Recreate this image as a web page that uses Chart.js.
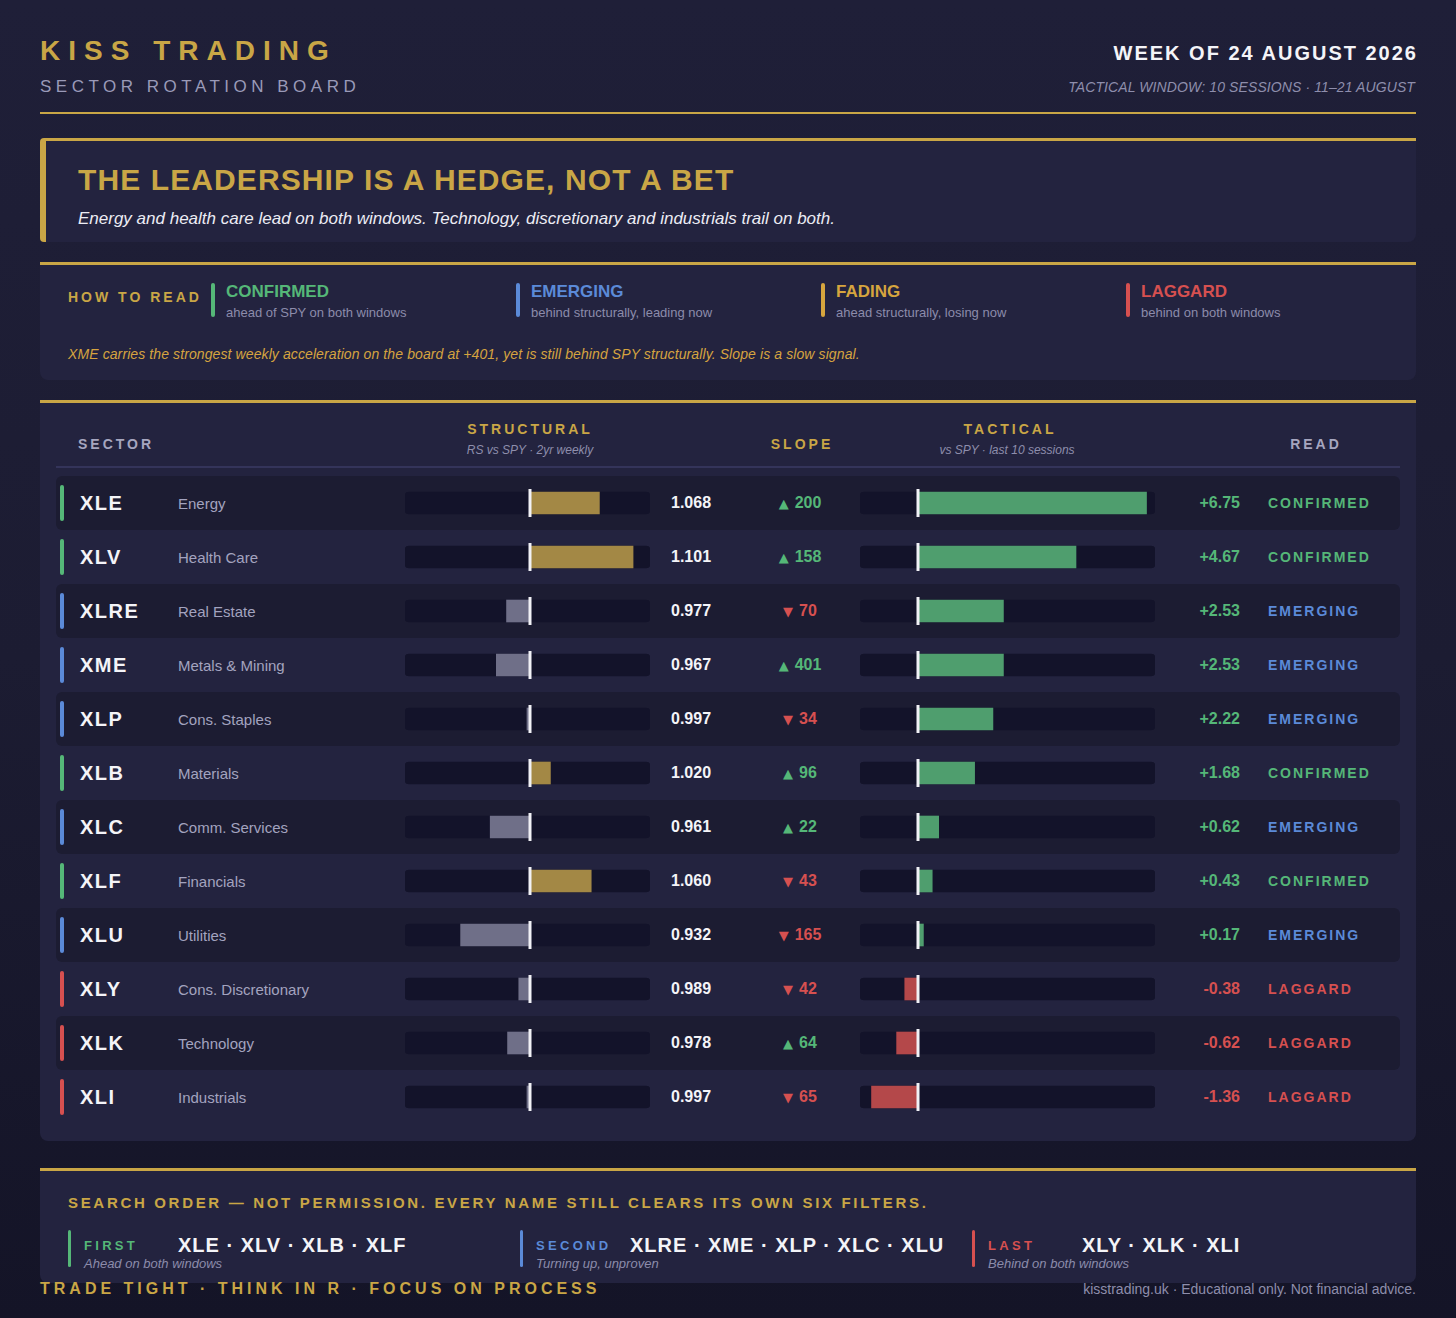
<!DOCTYPE html>
<html>
<head>
<meta charset="utf-8">
<script src="https://cdn.jsdelivr.net/npm/chart.js@4.4.1/dist/chart.umd.min.js"></script>
<style>
  * { margin: 0; padding: 0; box-sizing: border-box; }
  html, body { width: 1456px; height: 1318px; overflow: hidden; }
  body {
    position: relative;
    background: linear-gradient(180deg, #1f1f38 0%, #1c1c32 50%, #141427 100%);
    font-family: 'Liberation Sans', Arial, Helvetica, sans-serif;
    color: #f2f2f7;
  }
  .a { position: absolute; line-height: 1; white-space: nowrap; }
  .panel { position: absolute; left: 40px; width: 1376px; background: #23233f;
           border-top: 3px solid #c9a646; border-radius: 0 0 8px 8px; }
  .gold { color: #c9a646; }
  .hd { font-size: 14px; font-weight: bold; letter-spacing: 3px; }
  .row { position: absolute; left: 56px; width: 1344px; height: 54px; }
  .row.dark { background: #1c1c32; border-radius: 6px; }
  .cell { position: absolute; top: 0; height: 54px; display: flex; align-items: center; white-space: nowrap; }
  .tri { font-family: 'DejaVu Sans', sans-serif; font-size: 13px; font-weight: normal; margin-right: 6px; }
  canvas { position: absolute; }
</style>
</head>
<body>

<!-- header -->
<div class="a gold" style="left:40px;top:37px;font-size:28px;font-weight:bold;letter-spacing:8px;">KISS TRADING</div>
<div class="a" style="left:40px;top:78px;font-size:17px;letter-spacing:4.5px;color:#9a9ab8;">SECTOR ROTATION BOARD</div>
<div class="a" style="right:38px;top:43px;font-size:20px;font-weight:bold;letter-spacing:2px;color:#f4f4f8;">WEEK OF 24 AUGUST 2026</div>
<div class="a" style="right:41px;top:80px;font-size:14px;font-style:italic;letter-spacing:0.1px;color:#8e8eac;">TACTICAL WINDOW: 10 SESSIONS · 11–21 AUGUST</div>
<div class="a" style="left:40px;top:112px;width:1376px;height:2px;background:#c9a646;"></div>

<!-- headline -->
<div class="panel" style="top:138px;height:104px;border-left:6px solid #c9a646;border-radius:4px 0 8px 4px;"></div>
<div class="a gold" style="left:78px;top:165px;font-size:30px;font-weight:bold;letter-spacing:1.1px;">THE LEADERSHIP IS A HEDGE, NOT A BET</div>
<div class="a" style="left:78px;top:210px;font-size:17px;font-style:italic;color:#ececf4;">Energy and health care lead on both windows. Technology, discretionary and industrials trail on both.</div>

<!-- how to read -->
<div class="panel" style="top:262px;height:118px;"></div>
<div class="a gold hd" style="left:68px;top:290px;">HOW TO READ</div>
<div id="legend"></div>
<div class="a" style="left:68px;top:347px;font-size:14px;font-style:italic;letter-spacing:0.1px;color:#d6a33f;">XME carries the strongest weekly acceleration on the board at +401, yet is still behind SPY structurally. Slope is a slow signal.</div>

<!-- table -->
<div class="panel" style="top:400px;height:741px;"></div>
<div class="a hd" style="left:78px;top:437px;color:#a6a6bf;">SECTOR</div>
<div class="a gold hd" style="left:430px;width:200px;text-align:center;top:422px;">STRUCTURAL</div>
<div class="a" style="left:430px;width:200px;text-align:center;top:444px;font-size:12px;font-style:italic;color:#8e8eac;">RS vs SPY · 2yr weekly</div>
<div class="a gold hd" style="left:752px;width:100px;text-align:center;top:437px;">SLOPE</div>
<div class="a gold hd" style="left:910px;width:200px;text-align:center;top:422px;">TACTICAL</div>
<div class="a" style="left:907px;width:200px;text-align:center;top:444px;font-size:12px;font-style:italic;color:#8e8eac;">vs SPY · last 10 sessions</div>
<div class="a hd" style="left:1268px;width:96px;text-align:center;top:437px;color:#a6a6bf;">READ</div>
<div class="a" style="left:56px;top:466px;width:1344px;height:2px;background:#34345a;"></div>
<div id="rows"></div>
<canvas id="structChart" width="245" height="648" style="left:405px;top:476px;width:245px;height:648px;"></canvas>
<canvas id="tactChart" width="295" height="648" style="left:860px;top:476px;width:295px;height:648px;"></canvas>

<!-- search order -->
<div class="panel" style="top:1168px;height:115px;"></div>
<div class="a gold" style="left:68px;top:1195px;font-size:15px;font-weight:bold;letter-spacing:2.68px;">SEARCH ORDER — NOT PERMISSION. EVERY NAME STILL CLEARS ITS OWN SIX FILTERS.</div>
<div id="groups"></div>

<div class="a gold" style="left:40px;top:1281px;font-size:16px;font-weight:bold;letter-spacing:4px;">TRADE TIGHT · THINK IN R · FOCUS ON PROCESS</div>
<div class="a" style="right:40px;top:1282px;font-size:14px;color:#8e8eac;">kisstrading.uk · Educational only. Not financial advice.</div>

<script>
var TICKERS    = ['XLE', 'XLV', 'XLRE', 'XME', 'XLP', 'XLB', 'XLC', 'XLF', 'XLU', 'XLY', 'XLK', 'XLI'];
var SECTORS    = ['Energy', 'Health Care', 'Real Estate', 'Metals & Mining', 'Cons. Staples', 'Materials',
                  'Comm. Services', 'Financials', 'Utilities', 'Cons. Discretionary', 'Technology', 'Industrials'];
var STRUCTURAL = [1.068, 1.101, 0.977, 0.967, 0.997, 1.020, 0.961, 1.060, 0.932, 0.989, 0.978, 0.997];
var SLOPE      = [200, 158, -70, 401, -34, 96, 22, -43, -165, -42, 64, -65];
var TACTICAL   = [6.75, 4.67, 2.53, 2.53, 2.22, 1.68, 0.62, 0.43, 0.17, -0.38, -0.62, -1.36];
var READS      = ['CONFIRMED', 'CONFIRMED', 'EMERGING', 'EMERGING', 'EMERGING', 'CONFIRMED',
                  'EMERGING', 'CONFIRMED', 'EMERGING', 'LAGGARD', 'LAGGARD', 'LAGGARD'];

var LEGEND_KEYS  = ['CONFIRMED', 'EMERGING', 'FADING', 'LAGGARD'];
var LEGEND_NOTES = ['ahead of SPY on both windows', 'behind structurally, leading now',
                    'ahead structurally, losing now', 'behind on both windows'];
var GROUP_NAMES  = ['FIRST', 'SECOND', 'LAST'];
var GROUP_READS  = ['CONFIRMED', 'EMERGING', 'LAGGARD'];
var GROUP_NOTES  = ['Ahead on both windows', 'Turning up, unproven', 'Behind on both windows'];

var STRUCT_BASE = 1, STRUCT_MIN = 0.8775, STRUCT_MAX = 1.1176;
var TACT_BASE = 0,   TACT_MIN = -1.7,     TACT_MAX = 7.0;

var COLORS = { CONFIRMED: '#55b778', EMERGING: '#5b8ad8', FADING: '#d6a53e', LAGGARD: '#d65050' };
var UP = '#55b778', DOWN = '#d65050';
var TRACK = '#13132a';
var BAR_AHEAD = '#a38845', BAR_BEHIND = '#6f6f88';
var BAR_POS = '#4f9e6e', BAR_NEG = '#b4484a';

function el(html) { var d = document.createElement('div'); d.innerHTML = html; return d.firstChild; }

// ---- legend ----
var legend = document.getElementById('legend');
LEGEND_KEYS.forEach(function (k, i) {
  var x = 211 + i * 305;
  legend.appendChild(el('<div class="a" style="left:' + x + 'px;top:283px;width:4px;height:34px;border-radius:2px;background:' + COLORS[k] + ';"></div>'));
  legend.appendChild(el('<div class="a" style="left:' + (x + 15) + 'px;top:283px;font-size:17px;font-weight:bold;color:' + COLORS[k] + ';">' + k + '</div>'));
  legend.appendChild(el('<div class="a" style="left:' + (x + 15) + 'px;top:306px;font-size:13px;color:#8c8cab;">' + LEGEND_NOTES[i] + '</div>'));
});

// ---- rows ----
var rows = document.getElementById('rows');
TICKERS.forEach(function (t, i) {
  var top = 476 + i * 54;
  var col = COLORS[READS[i]];
  var s = SLOPE[i], tv = TACTICAL[i];
  var html = '<div class="row' + (i % 2 === 0 ? ' dark' : '') + '" style="top:' + top + 'px;">' +
    '<div style="position:absolute;left:4px;top:9px;width:4px;height:36px;border-radius:2px;background:' + col + ';"></div>' +
    '<div class="cell" style="left:24px;font-size:20px;font-weight:bold;letter-spacing:1.5px;color:#f4f4f8;">' + t + '</div>' +
    '<div class="cell" style="left:122px;font-size:15px;color:#a3a3bf;">' + SECTORS[i].replace('&', '&amp;') + '</div>' +
    '<div class="cell" style="left:615px;font-size:16px;font-weight:bold;color:#f4f4f8;">' + STRUCTURAL[i].toFixed(3) + '</div>' +
    '<div class="cell" style="left:704px;width:80px;justify-content:center;font-size:16px;font-weight:bold;color:' + (s >= 0 ? UP : DOWN) + ';">' +
      '<span class="tri">' + (s >= 0 ? '▲' : '▼') + '</span>' + Math.abs(s) + '</div>' +
    '<div class="cell" style="left:1084px;width:100px;justify-content:flex-end;font-size:16px;font-weight:bold;color:' + (tv >= 0 ? UP : DOWN) + ';">' +
      (tv >= 0 ? '+' : '') + tv.toFixed(2) + '</div>' +
    '<div class="cell" style="left:1212px;font-size:14px;font-weight:bold;letter-spacing:2px;color:' + col + ';">' + READS[i] + '</div>' +
    '</div>';
  rows.appendChild(el(html));
});

// ---- search order groups (derived from the read column) ----
var groups = document.getElementById('groups');
GROUP_NAMES.forEach(function (g, i) {
  var x = 68 + i * 452;
  var col = COLORS[GROUP_READS[i]];
  var names = TICKERS.filter(function (t, j) { return READS[j] === GROUP_READS[i]; }).join(' · ');
  groups.appendChild(el('<div class="a" style="left:' + x + 'px;top:1230px;width:3px;height:37px;border-radius:2px;background:' + col + ';"></div>'));
  groups.appendChild(el('<div class="a" style="left:' + (x + 16) + 'px;top:1239px;font-size:13px;font-weight:bold;letter-spacing:3.3px;color:' + col + ';">' + g + '</div>'));
  groups.appendChild(el('<div class="a" style="left:' + (x + 110) + 'px;top:1235px;font-size:20px;font-weight:bold;letter-spacing:1px;color:#f4f4f8;">' + names + '</div>'));
  groups.appendChild(el('<div class="a" style="left:' + (x + 16) + 'px;top:1257px;font-size:13px;font-style:italic;color:#8c8cab;">' + GROUP_NOTES[i] + '</div>'));
});

// ---- charts ----
(function () {
  if (typeof Chart === 'undefined') { console.warn('Chart.js not loaded'); return; }

  // white reference tick at the base value, one per row
  var baseMarker = {
    id: 'baseMarker',
    afterDatasetsDraw: function (chart, args, opts) {
      var x = Math.round(chart.scales.x.getPixelForValue(opts.value));
      var ctx = chart.ctx;
      ctx.save();
      ctx.fillStyle = '#f1f1f6';
      chart.data.labels.forEach(function (l, i) {
        var y = chart.scales.y.getPixelForValue(i);
        ctx.fillRect(x - 1.5, y - 14, 3, 28);
      });
      ctx.restore();
    }
  };

  function divergingBars(id, values, base, min, max, upColor, downColor) {
    new Chart(document.getElementById(id), {
      type: 'bar',
      data: {
        labels: TICKERS,
        datasets: [
          { data: values.map(function () { return [min, max]; }), backgroundColor: TRACK,
            borderRadius: 4, borderSkipped: false, barThickness: 22, grouped: false, order: 2 },
          { data: values.map(function (v) { return [base, v]; }),
            backgroundColor: values.map(function (v) { return v >= base ? upColor : downColor; }),
            borderRadius: 0, borderSkipped: false, barThickness: 22, grouped: false, order: 1 }
        ]
      },
      options: {
        indexAxis: 'y', responsive: false, animation: false, events: [],
        layout: { padding: 0 },
        plugins: { legend: { display: false }, tooltip: { enabled: false }, baseMarker: { value: base } },
        scales: {
          x: { min: min, max: max, display: false },
          y: { display: false }
        }
      },
      plugins: [baseMarker]
    });
  }

  divergingBars('structChart', STRUCTURAL, STRUCT_BASE, STRUCT_MIN, STRUCT_MAX, BAR_AHEAD, BAR_BEHIND);
  divergingBars('tactChart', TACTICAL, TACT_BASE, TACT_MIN, TACT_MAX, BAR_POS, BAR_NEG);
})();
</script>
</body>
</html>
